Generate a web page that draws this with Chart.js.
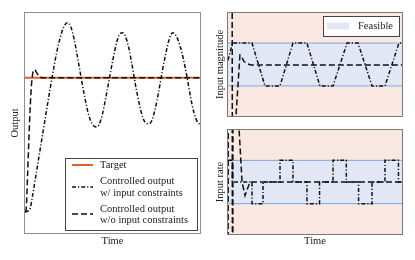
<!DOCTYPE html>
<html>
<head>
<meta charset="utf-8">
<script src="https://cdn.jsdelivr.net/npm/chart.js@4.4.0/dist/chart.umd.min.js"></script>
<style>
    html, body { margin: 0; padding: 0; background: #fff; }
    #wrap { position: relative; width: 415px; height: 260px; }
    canvas { position: absolute; }
</style>
</head>
<body>
<div id="wrap">
    <canvas id="outputChart" width="210" height="260" style="left:0;top:0"></canvas>
    <canvas id="magChart" width="205" height="122" style="left:210px;top:0"></canvas>
    <canvas id="rateChart" width="205" height="138" style="left:210px;top:122px"></canvas>
</div>
<script>
// ---- data ----
const targetTime = [-0.6, 100];
const targetValue = [1, 1];

const outConTime = [0, 2, 3, 4, 6, 8, 10, 12, 14, 16, 18, 20, 22, 24, 26, 28, 30, 32, 34, 36, 38, 40.3, 42, 44, 46, 48, 50, 52, 54, 55.5, 57, 59, 61, 63, 65, 67, 69, 70.5, 72, 74, 76, 78, 80, 82, 84, 86, 88, 90, 92, 94, 96, 98, 100];
const outConValue = [0, 0.01, 0.03, 0.1, 0.26, 0.42, 0.58, 0.74, 0.9, 1.05, 1.19, 1.3, 1.38, 1.41, 1.38, 1.28, 1.14, 0.99, 0.85, 0.73, 0.66, 0.634, 0.65, 0.73, 0.86, 1.0, 1.14, 1.26, 1.33, 1.336, 1.31, 1.22, 1.08, 0.93, 0.8, 0.7, 0.66, 0.657, 0.68, 0.77, 0.9, 1.05, 1.18, 1.29, 1.336, 1.31, 1.24, 1.14, 1.01, 0.86, 0.74, 0.67, 0.65];

const outFreeTime = [0, 0.6, 1.5, 2.5, 3.5, 4.5, 5.5, 6.5, 8, 10, 100];
const outFreeValue = [0, 0.02, 0.3, 0.65, 0.92, 1.04, 1.06, 1.04, 1.01, 1.0, 1.0];

const bandTime = [-0.6, 100];
const bandUpper = [1, 1];
const bandLower = [-1, -1];

const magConTime = [0, 2.5, 13.7, 21.1, 29.7, 37.1, 45.1, 52.5, 60, 68, 74.3, 82.3, 89.7, 97.7, 100];
const magConValue = [0.2, 1, 1, -1, -1, 1, 1, -1, -1, 1, 1, -1, -1, 1, 1];

const magFreeTime = [0, 2.3, 2.5, 3.7, 4.5, 6.8, 7.6, 9, 11, 13, 100];
const magFreeValue = [6, 6, -6, -6, -2.44, 0.44, 0.4, 0.15, 0.03, -0.02, -0.02];

const rateConTime = [0, 2.5, 2.5, 13.7, 13.7, 20, 20, 29.7, 29.7, 37.1, 37.1, 45.1, 45.1, 52.3, 52.3, 60, 60, 67.6, 67.6, 74.6, 74.6, 82.3, 82.3, 89.7, 89.7, 97.4, 97.4, 100];
const rateConValue = [1, 1, 0, 0, -1, -1, 0, 0, 1, 1, 0, 0, -1, -1, 0, 0, 1, 1, 0, 0, -1, -1, 0, 0, 1, 1, 0, 0];

const rateFreeTime = [0, 0.15, 2.35, 2.55, 2.7, 2.85, 6.25, 6.3, 8, 9.7, 12.5, 100];
const rateFreeValue = [-8, 8, 8, -8, -8, 8, 8, 2.45, 0, -0.63, 0, 0];

const legendLabels = ['Target', ['Controlled output', 'w/ input constraints'], ['Controlled output', 'w/o input constraints']];
const bandLabel = 'Feasible';

// ---- styles ----
const FONT = { family: "'Liberation Serif', 'Times New Roman', serif", size: 10.5 };
const ORANGE = '#df6128';
const DASH_DOT = [4, 2, 1.2, 2];
const DASHED = [6, 3];
const PINK = '#f9e8e2';
const BLUE_FILL = '#e2e7f5';
const BLUE_LINE = '#86a4dc';

function pts(xs, ys) {
    return xs.map((x, i) => ({ x: x, y: ys[i] }));
}

// frame, background and legend box drawn over the chart area
const panelDeco = {
    id: 'panelDeco',
    beforeDraw(chart, args, opts) {
        if (!opts.background) return;
        const a = chart.chartArea;
        const ctx = chart.ctx;
        ctx.save();
        ctx.fillStyle = opts.background;
        ctx.fillRect(a.left, a.top, a.right - a.left, a.bottom - a.top);
        ctx.restore();
    },
    afterDatasetsDraw(chart, args, opts) {
        const a = chart.chartArea;
        const ctx = chart.ctx;
        ctx.save();
        ctx.strokeStyle = opts.frame || '#888';
        ctx.lineWidth = 1;
        ctx.strokeRect(a.left + 0.5, a.top + 0.5, a.right - a.left - 1, a.bottom - a.top - 1);
        ctx.restore();
    },
    afterDraw(chart, args, opts) {
        const lg = opts.legend;
        if (!lg) return;
        const ctx = chart.ctx;
        ctx.save();
        ctx.fillStyle = '#fff';
        ctx.fillRect(lg.x, lg.y, lg.w, lg.h);
        ctx.strokeStyle = '#444';
        ctx.lineWidth = 1;
        ctx.strokeRect(lg.x + 0.5, lg.y + 0.5, lg.w, lg.h);
        ctx.font = `${FONT.size}px ${FONT.family}`;
        ctx.textBaseline = 'middle';
        lg.items.forEach(item => {
            const ds = chart.data.datasets[item.dataset];
            if (item.patch) {
                ctx.fillStyle = ds.backgroundColor;
                ctx.fillRect(lg.sampleX0, item.sy - 3.5, lg.sampleX1 - lg.sampleX0, 7);
            } else {
                ctx.strokeStyle = ds.borderColor;
                ctx.lineWidth = ds.borderWidth;
                ctx.setLineDash(ds.borderDash || []);
                ctx.beginPath();
                ctx.moveTo(lg.sampleX0, item.sy);
                ctx.lineTo(lg.sampleX1, item.sy);
                ctx.stroke();
                ctx.setLineDash([]);
            }
            ctx.fillStyle = '#222';
            const lines = Array.isArray(item.text) ? item.text : [item.text];
            lines.forEach((t, i) => ctx.fillText(t, lg.textX, item.ty[i]));
        });
        ctx.restore();
    }
};

function axisTitle(text, padding) {
    return { display: true, text: text, color: '#222', font: FONT, padding: padding };
}

const hidden = { grid: { display: false }, border: { display: false }, ticks: { display: false } };

// ---- left: output ----
new Chart(document.getElementById('outputChart'), {
    type: 'line',
    data: {
        datasets: [
            {
                label: 'Controlled output w/o input constraints',
                data: pts(outFreeTime, outFreeValue),
                borderColor: '#111', borderWidth: 1.5, borderDash: DASHED,
                pointRadius: 0, cubicInterpolationMode: 'monotone', order: 1
            },
            {
                label: 'Controlled output w/ input constraints',
                data: pts(outConTime, outConValue),
                borderColor: '#111', borderWidth: 1.5, borderDash: DASH_DOT,
                pointRadius: 0, cubicInterpolationMode: 'monotone', order: 2
            },
            {
                label: 'Target',
                data: pts(targetTime, targetValue),
                borderColor: ORANGE, borderWidth: 2,
                pointRadius: 0, order: 3
            }
        ]
    },
    options: {
        responsive: false,
        animation: false,
        layout: { padding: { top: 12, right: 9, left: 0, bottom: 0 } },
        plugins: {
            legend: { display: false },
            tooltip: { enabled: false },
            panelDeco: {
                frame: '#8e8e8e',
                legend: {
                    x: 65, y: 158, w: 132, h: 72, sampleX0: 72, sampleX1: 93, textX: 100,
                    items: [
                        { dataset: 2, text: legendLabels[0], sy: 165, ty: [165] },
                        { dataset: 1, text: legendLabels[1], sy: 187, ty: [181, 193] },
                        { dataset: 0, text: legendLabels[2], sy: 214, ty: [209, 220] }
                    ]
                }
            }
        },
        scales: {
            x: {
                type: 'linear', min: -0.6, max: 100, ...hidden,
                title: axisTitle('Time', { top: 0, bottom: 12 }),
                afterFit(s) { s.height = 26; }
            },
            y: {
                min: -0.164, max: 1.49, ...hidden,
                title: axisTitle('Output', { top: 9, bottom: 0 }),
                afterFit(s) { s.width = 24; }
            }
        }
    },
    plugins: [panelDeco]
});

// ---- right: input magnitude and rate ----
function inputChart(id, label, conT, conV, freeT, freeV, withTime, pad, withLegend) {
    const datasets = [
        {
            label: 'w/o constraints', data: pts(freeT, freeV),
            borderColor: '#111', borderWidth: 1.5, borderDash: DASHED,
            pointRadius: 0, tension: 0, order: 1
        },
        {
            label: 'w/ constraints', data: pts(conT, conV),
            borderColor: '#111', borderWidth: 1.5, borderDash: DASH_DOT,
            pointRadius: 0, tension: 0, order: 2
        },
        {
            label: bandLabel, data: pts(bandTime, bandUpper),
            borderColor: BLUE_LINE, borderWidth: 1, backgroundColor: BLUE_FILL,
            fill: '+1', pointRadius: 0, order: 3
        },
        {
            label: 'lower', data: pts(bandTime, bandLower),
            borderColor: BLUE_LINE, borderWidth: 1,
            pointRadius: 0, order: 4
        }
    ];
    const deco = { frame: '#7a7a7a', background: PINK };
    if (withLegend) {
        deco.legend = {
            x: 113, y: 16, w: 76, h: 20, sampleX0: 117, sampleX1: 139, textX: 148,
            items: [{ dataset: 2, patch: true, text: bandLabel, sy: 26, ty: [26] }]
        };
    }
    return new Chart(document.getElementById(id), {
        type: 'line',
        data: { datasets: datasets },
        options: {
            responsive: false,
            animation: false,
            layout: { padding: pad },
            plugins: {
                legend: { display: false },
                tooltip: { enabled: false },
                filler: { drawTime: 'beforeDatasetsDraw' },
                panelDeco: deco
            },
            scales: {
                x: {
                    type: 'linear', min: -0.6, max: 100, ...hidden,
                    display: withTime,
                    title: axisTitle('Time', { top: 0, bottom: 12 }),
                    afterFit(s) { s.height = withTime ? 25 : 0; }
                },
                y: {
                    min: -2.45, max: 2.45, ...hidden,
                    title: axisTitle(label, { top: 3.5, bottom: 0 }),
                    afterFit(s) { s.width = 17; }
                }
            }
        },
        plugins: [panelDeco]
    });
}

inputChart('magChart', 'Input magnitude', magConTime, magConValue, magFreeTime, magFreeValue,
    false, { top: 12, right: 12, left: 0, bottom: 5 }, true);
inputChart('rateChart', 'Input rate', rateConTime, rateConValue, rateFreeTime, rateFreeValue,
    true, { top: 7, right: 12, left: 0, bottom: 0 }, false);
</script>
</body>
</html>
